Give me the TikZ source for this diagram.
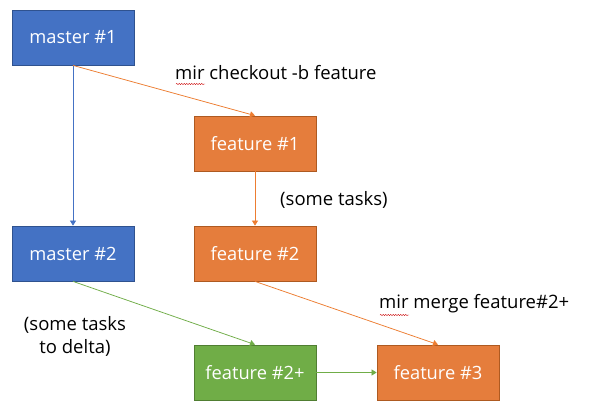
\documentclass[tikz,border=0pt]{standalone}
\usepackage{fontspec}
\setmainfont{Open Sans}
\usetikzlibrary{arrows.meta,decorations.pathmorphing}
\definecolor{mblue}{HTML}{4472C4}
\definecolor{mblueb}{HTML}{2F528F}
\definecolor{morange}{HTML}{E57D3C}
\definecolor{morangeb}{HTML}{AE5A21}
\definecolor{mgreen}{HTML}{70AD47}
\definecolor{mgreenb}{HTML}{507E32}
\definecolor{lorange}{HTML}{ED7D31}
\tikzset{
  box/.style={draw, line width=0.8pt, minimum width=122pt, minimum height=55pt,
    inner sep=0pt, text=white, font=\fontsize{18.3}{21}\selectfont},
  bluebox/.style={box, fill=mblue, draw=mblueb},
  orangebox/.style={box, fill=morange, draw=morangeb},
  greenbox/.style={box, fill=mgreen, draw=mgreenb},
  conn/.style={line width=0.75pt, -{Triangle[length=5pt,width=6pt]}},
  lbl/.style={font=\fontsize{18.5}{23}\selectfont, inner sep=0pt},
  squig/.style={draw=red!80!black, line width=0.4pt, decorate,
    decoration={snake, amplitude=0.6pt, segment length=2.5pt}}
}
\begin{document}
\begin{tikzpicture}[x=1pt,y=-1pt]
\useasboundingbox (0,0) rectangle (590,418);
\fill[white] (0,0) rectangle (590,418);
\node[bluebox] (m1) at (73,37.5) {master \#1};
\node[orangebox] (f1) at (255,143.5) {feature \#1};
\node[bluebox] (m2) at (73,253.5) {master \#2};
\node[orangebox] (f2) at (255,253.5) {feature \#2};
\node[greenbox] (f2p) at (255,372.5) {feature \#2+};
\node[orangebox] (f3) at (438,372.5) {feature \#3};

\draw[conn, mblue] (m1) -- (m2);
\draw[conn, lorange] (m1.south) -- (f1.north);
\draw[conn, lorange] (f1) -- (f2);
\draw[conn, mgreen] (m2.south) -- (f2p.north);
\draw[conn, lorange] (f2.south) -- (f3.north);
\draw[conn, mgreen] (f2p) -- (f3);

\node[lbl, anchor=west] (l1) at (175,73) {mir checkout -b feature};
\node[lbl, anchor=west] (l2) at (280,200) {(some tasks)};
\node[lbl, align=center] (l3) at (75,336) {(some tasks\\to delta)};
\node[lbl, anchor=west] (l4) at (379,304) {mir merge feature\#2+};
\coordinate (s1a) at (176,84);
\coordinate (s1b) at (205,84);
\coordinate (s4a) at (380,315);
\coordinate (s4b) at (409,315);
\path[squig] (s1a) -- (s1b);
\path[squig] (s4a) -- (s4b);
\end{tikzpicture}
\end{document}
